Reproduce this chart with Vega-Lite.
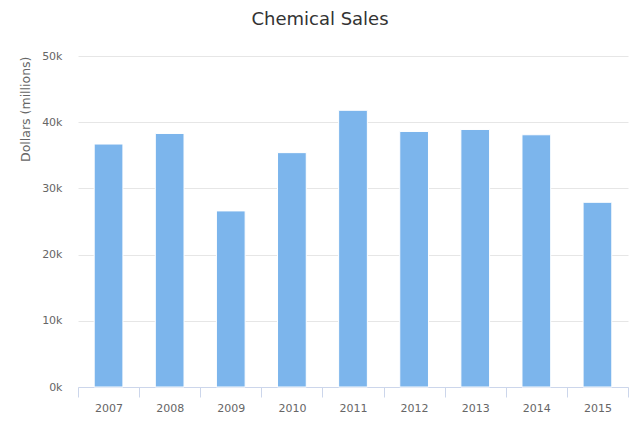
{
  "$schema": "https://vega.github.io/schema/vega-lite/v6.json",
  "width": 550,
  "height": 331,
  "autosize": "none",
  "padding": {"left": 78, "top": 56, "right": 12, "bottom": 40},
  "background": "white",
  "config": {"view": {"stroke": null}, "font": "DejaVu Sans"},
  "title": {
    "text": "Chemical Sales",
    "fontSize": 18,
    "font": "DejaVu Sans",
    "fontWeight": "normal",
    "color": "#333333",
    "anchor": "middle",
    "dx": -33,
    "offset": 21
  },
  "data": {
    "values": [
      {"year": "2007", "sales": 36700},
      {"year": "2008", "sales": 38300},
      {"year": "2009", "sales": 26600},
      {"year": "2010", "sales": 35400},
      {"year": "2011", "sales": 41800},
      {"year": "2012", "sales": 38600},
      {"year": "2013", "sales": 38900},
      {"year": "2014", "sales": 38100},
      {"year": "2015", "sales": 27900}
    ]
  },
  "mark": {
    "type": "bar",
    "color": "#7cb5ec",
    "stroke": "white",
    "strokeWidth": 1,
    "width": {"band": 0.47}
  },
  "encoding": {
    "x": {
      "field": "year",
      "type": "ordinal",
      "scale": {"paddingInner": 0, "paddingOuter": 0},
      "axis": {
        "title": null,
        "labelAngle": 0,
        "tickBand": "extent",
        "domainColor": "#ccd6eb",
        "tickColor": "#ccd6eb",
        "tickSize": 10,
        "labelColor": "#666666",
        "labelFontSize": 11,
        "labelPadding": 5,
        "labelFont": "DejaVu Sans"
      }
    },
    "y": {
      "field": "sales",
      "type": "quantitative",
      "scale": {"domain": [0, 50000], "nice": false},
      "axis": {
        "title": "Dollars (millions)",
        "values": [0, 10000, 20000, 30000, 40000, 50000],
        "labelExpr": "datum.value / 1000 + 'k'",
        "grid": true,
        "gridColor": "#e6e6e6",
        "domain": false,
        "ticks": false,
        "labelColor": "#666666",
        "labelFontSize": 11,
        "labelPadding": 16,
        "labelFont": "DejaVu Sans",
        "titleColor": "#666666",
        "titleFontSize": 12.5,
        "titleFontWeight": "normal",
        "titleFont": "DejaVu Sans",
        "titleAnchor": "end",
        "titlePadding": 9
      }
    }
  }
}
